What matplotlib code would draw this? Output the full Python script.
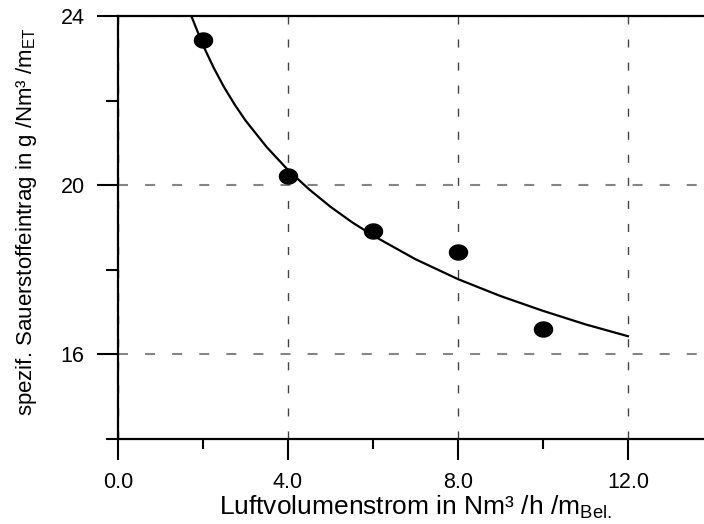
import matplotlib
matplotlib.use('Agg')
import matplotlib.pyplot as plt
from matplotlib.ticker import MultipleLocator, FormatStrFormatter
from matplotlib.path import Path
import numpy as np

plt.rcParams['font.family'] = ['Liberation Sans', 'DejaVu Sans']
plt.rcParams['mathtext.fontset'] = 'custom'
plt.rcParams['mathtext.rm'] = 'Liberation Sans'
plt.rcParams['mathtext.it'] = 'Liberation Sans'

# measured points
luft = [2, 4, 6, 8, 10]
sauerstoff = [23.43, 20.21, 18.91, 18.41, 16.59]

# trend curve
kurve_x = [1.7, 1.85, 2.0, 2.25, 2.5, 2.75, 3.0, 3.5, 4.0, 4.5, 5.0, 5.5, 6.0, 7.0, 8.0, 9.0, 10.0, 11.0, 12.0]
kurve_y = [24.06, 23.69, 23.31, 22.78, 22.31, 21.90, 21.53, 20.90, 20.36, 19.90, 19.49, 19.13, 18.81, 18.25, 17.78, 17.38, 17.03, 16.71, 16.43]

# slightly wide ellipse marker like the original
t = np.linspace(0, 2 * np.pi, 60)
ellipse = Path(np.column_stack([1.2 * np.cos(t), np.sin(t)]))

fig = plt.figure(figsize=(7.04, 5.24), dpi=100)
ax = fig.add_axes([118 / 704, 1 - 439 / 524, 1 - 118 / 704, 423 / 524])

ax.plot(kurve_x, kurve_y, color='black', lw=1.6, zorder=3)
ax.plot(luft, sauerstoff, linestyle='none', marker=ellipse, markersize=13,
        color='black', zorder=4)

ax.set_xlim(0, 13.79)
ax.set_ylim(14, 24)

ax.xaxis.set_major_locator(MultipleLocator(4))
ax.xaxis.set_minor_locator(MultipleLocator(2))
ax.yaxis.set_major_locator(MultipleLocator(4))
ax.yaxis.set_minor_locator(MultipleLocator(2))
ax.xaxis.set_major_formatter(FormatStrFormatter('%.1f'))
ax.yaxis.set_major_formatter(FormatStrFormatter('%.0f'))

ax.tick_params(which='major', direction='out', length=15, width=1.5, pad=9, labelsize=15.5)
ax.tick_params(axis='x', which='minor', direction='out', length=7.5, width=1.5)
ax.tick_params(axis='y', which='minor', direction='out', length=9, width=1.5)

for side in ['left', 'bottom', 'top']:
    ax.spines[side].set_linewidth(1.6)
ax.spines['right'].set_visible(False)

# horizontal grid lighter and wider dashes, vertical darker and thinner
ax.yaxis.grid(True, which='major', color='#858585', linestyle=(0, (4.8, 8.2)), linewidth=1.5)
ax.xaxis.grid(True, which='major', color='#444444', linestyle=(0, (5.8, 10.8)), linewidth=1.0)
ax.set_axisbelow(True)

ax.set_xlabel('Luftvolumenstrom in Nm³ /h /m$_{\\mathrm{Bel.}}$', fontsize=19)
ax.xaxis.set_label_coords(0.508, -0.13)
ax.set_ylabel('spezif. Sauerstoffeintrag in g /Nm³ /m$_{\\mathrm{ET}}$', fontsize=16,
              family=['Liberation Sans Narrow', 'Liberation Sans', 'DejaVu Sans'])
ax.yaxis.set_label_coords(-0.135, 0.515)

fig.savefig('out.png', dpi=100)
